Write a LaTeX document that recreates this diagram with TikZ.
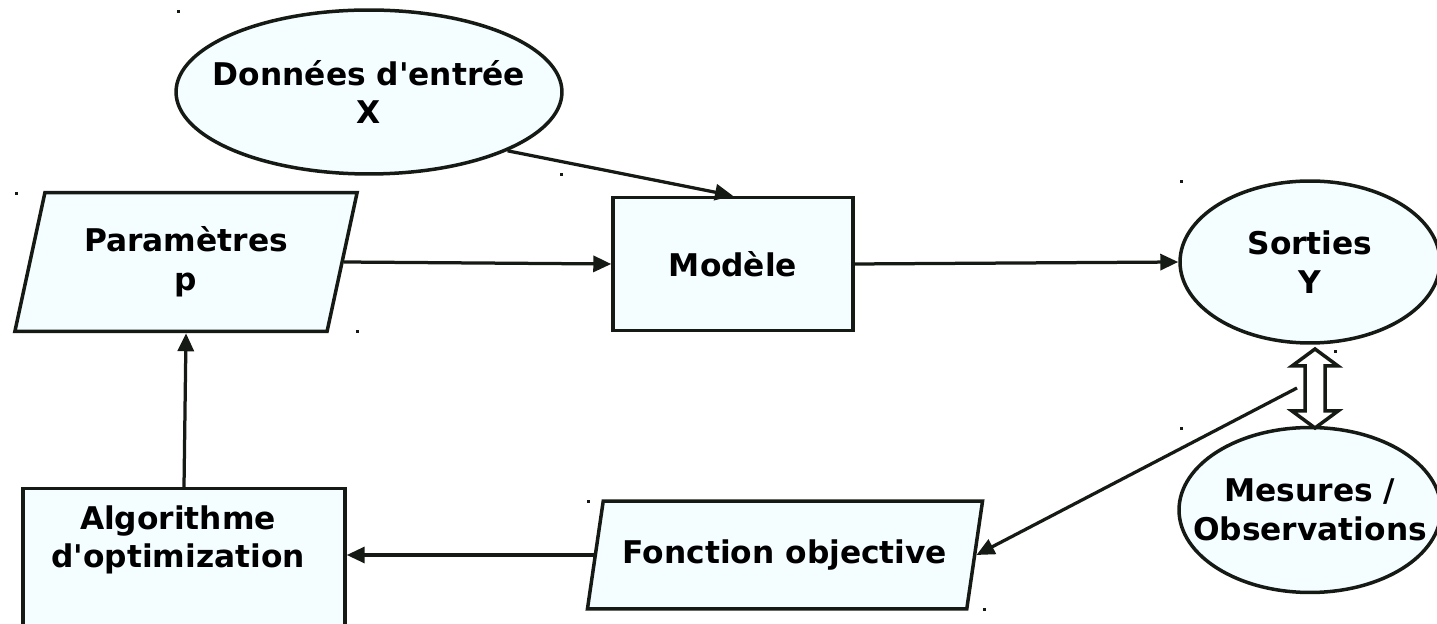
\documentclass[tikz,border=0pt]{standalone}
\usepackage{fontspec}
\setmainfont{DejaVu Sans}
\usetikzlibrary{arrows.meta,shapes.geometric,calc,positioning}
\definecolor{boxfill}{RGB}{244,253,255}
\definecolor{ink}{RGB}{22,26,20}

\begin{document}
\begin{tikzpicture}[x=0.02cm, y=-0.02cm]
    \tikzset{every node/.style={font=\fontsize{17.8}{22}\selectfont\bfseries, text=black, align=center},
      BoxStyle/.style={rectangle, draw=ink, line width=0.07cm, fill=boxfill},
      EllStyle/.style={ellipse, draw=ink, line width=0.07cm, fill=boxfill, inner sep=0pt},
      ParaStyle/.style={trapezium, trapezium stretches=true, draw=ink, line width=0.07cm, fill=boxfill, inner sep=0pt},
      EdgeStyle/.style={draw=ink, line width=0.065cm, -{Triangle[length=0.36cm, width=0.32cm]}},
      HollowStyle/.style={draw=ink, line width=0.07cm, fill=white, line join=miter}}
    \useasboundingbox (0,0) rectangle (1437,624);
    \node[EllStyle, minimum width=7.72cm, minimum height=3.28cm,
      label={center:Données d\textquotesingle entrée\\X}] (donnees) at (369,92) {};
    \node[ParaStyle, trapezium left angle=72.8, trapezium right angle=107.2,
      minimum width=6.86cm, minimum height=2.78cm] (param) at (186,262) {Paramètres\\p};
    \node[BoxStyle, minimum width=4.8cm, minimum height=2.66cm] (modele) at (733,264) {Modèle};
    \node[EllStyle, minimum width=5.2cm, minimum height=3.24cm,
      label={center:Sorties\\Y}] (sorties) at (1310,262) {};
    \node[EllStyle, minimum width=5.24cm, minimum height=3.3cm,
      label={center:Mesures /\\Observations}] (mesures) at (1310,510) {};
    \node[ParaStyle, trapezium left angle=65.2, trapezium right angle=114.8,
      minimum width=7.92cm, minimum height=2.16cm] (fonc) at (785,555) {Fonction objective};
    \node[BoxStyle, anchor=north, minimum width=6.44cm, minimum height=3.6cm] (algo) at (184,487) {};
    \node (algotxt) at (178,540) {Algorithme\\d\textquotesingle optimization};
    \draw[EdgeStyle] (donnees.-23) -- (modele.north);
    \draw[EdgeStyle] (param.east) -- (modele.west);
    \draw[EdgeStyle] (modele.east) -- (sorties.west);
    \coordinate (cmp) at (1297,388);
    \draw[EdgeStyle] (cmp) -- (fonc.east);
    \draw[EdgeStyle] (fonc.west) -- (fonc.west -| algo.east);
    \draw[EdgeStyle] (algo.north) -- (param.south);
    \draw[HollowStyle] (1315,349) -- ++(23,17) -- ++(-13,0) -- ++(0,45) -- ++(13,0) -- ++(-23,17)
      -- ++(-23,-17) -- ++(13,0) -- ++(0,-45) -- ++(-13,0) -- cycle;
    \foreach \x/\y in {178/12, 16/194, 561/175, 357/332, 1181/182, 1335/352, 1181/429, 588/502, 984/610}
      \fill[ink] (\x-1.5,\y-1.5) rectangle ++(3,3);
  \end{tikzpicture}
\end{document}
